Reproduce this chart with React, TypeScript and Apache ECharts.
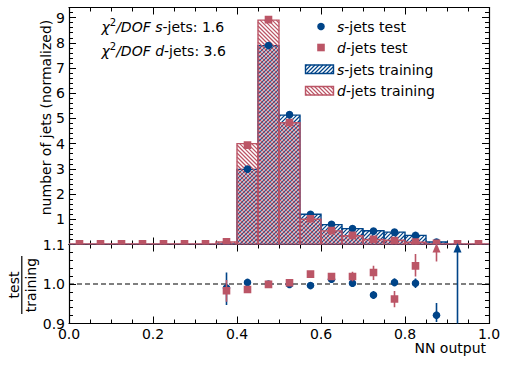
import React, { useEffect, useRef } from 'react';
import * as echarts from 'echarts';

// ---------- data ----------
const binEdges = [0, 0.05, 0.1, 0.15, 0.2, 0.25, 0.3, 0.35, 0.4, 0.45, 0.5, 0.55, 0.6, 0.65, 0.7, 0.75, 0.8, 0.85, 0.9, 0.95, 1.0];
const binCenters = [0.025, 0.075, 0.125, 0.175, 0.225, 0.275, 0.325, 0.375, 0.425, 0.475, 0.525, 0.575, 0.625, 0.675, 0.725, 0.775, 0.825, 0.875, 0.925, 0.975];

const sTrain = [0, 0, 0, 0, 0, 0, 0, 0.02, 2.98, 7.88, 5.13, 1.2, 0.79, 0.63, 0.545, 0.49, 0.36, 0.1, 0, 0];
const dTrain = [0.02, 0.02, 0.02, 0.02, 0.02, 0.02, 0.02, 0.1, 4.0, 8.9, 4.83, 1.0, 0.54, 0.35, 0.2, 0.17, 0.09, 0.02, 0.02, 0.02];
const sTest: (number | null)[] = [null, null, null, null, null, null, null, 0.02, 2.99, 7.89, 5.15, 1.2, 0.8, 0.63, 0.53, 0.49, 0.36, 0.1, 0.02, null];
const dTest: (number | null)[] = [0.03, 0.03, 0.03, 0.03, 0.03, 0.03, 0.03, 0.11, 3.94, 8.92, 4.84, 1.02, 0.55, 0.36, 0.21, 0.16, 0.1, 0.05, 0.03, 0.03];

const sRatioX = [0.375, 0.425, 0.475, 0.525, 0.575, 0.625, 0.675, 0.725, 0.775, 0.825, 0.875];
const sRatio = [0.99, 1.004, 1.0, 0.999, 0.996, 1.012, 1.002, 0.972, 1.004, 1.002, 0.921];
const sRatioErrLo = [0.043, 0.005, 0.003, 0.004, 0.006, 0.008, 0.009, 0.01, 0.01, 0.012, 0.017];
const sRatioErrHi = [0.039, 0.005, 0.003, 0.004, 0.006, 0.008, 0.009, 0.01, 0.01, 0.012, 0.031];

const dRatioX = [0.375, 0.425, 0.475, 0.525, 0.575, 0.625, 0.675, 0.725, 0.775, 0.825];
const dRatio = [0.983, 0.986, 0.999, 1.003, 1.025, 1.019, 1.019, 1.029, 0.962, 1.046];
const dRatioErrLo = [0.028, 0.004, 0.003, 0.004, 0.006, 0.008, 0.012, 0.019, 0.021, 0.027];
const dRatioErrHi = [0.027, 0.004, 0.003, 0.004, 0.006, 0.008, 0.012, 0.017, 0.02, 0.03];

// off-scale ratios drawn as arrows (start value -> top of panel)
const sArrowX = [0.925];
const sArrowFrom = [0.9];
const dArrowX = [0.875];
const dArrowFrom = [1.057];

const refLine = [[0, 1], [1, 1]];

const xTickLabels = ['0.0', '0.2', '0.4', '0.6', '0.8', '1.0'];
const chiLines = [
  { label: 's', value: '1.6' },
  { label: 'd', value: '3.6' },
];

// ---------- styling ----------
const S_COLOR = '#004488';
const D_COLOR = '#BB5566';
const FONT = 'DejaVu Sans';
const FS = 14;
const HATCH = 4;
const HATCH_W = 1.15;
const TOP_MAX = 9.4;
const RATIO_MIN = 0.9;
const RATIO_MAX = 1.1;

const G_LEFT = 69;
const G_W = 420;
const G1_TOP = 7.5;
const G1_H = 237;
const G2_TOP = G1_TOP + G1_H;
const G2_H = 79;

function hatch(x0: number, y0: number, x1: number, y1: number, s: number, dir: number) {
  const out: number[][] = [];
  if (x1 - x0 < 0.5 || y1 - y0 < 0.5) return out;
  if (dir > 0) {
    const k0 = Math.ceil((x0 + y0) / s);
    const k1 = Math.floor((x1 + y1) / s);
    for (let k = k0; k <= k1; k++) {
      const c = k * s;
      const xa = Math.max(x0, c - y1);
      const xb = Math.min(x1, c - y0);
      if (xb > xa) out.push([xa, c - xa, xb, c - xb]);
    }
  } else {
    const k0 = Math.ceil((y0 - x1) / s);
    const k1 = Math.floor((y1 - x0) / s);
    for (let k = k0; k <= k1; k++) {
      const c = k * s;
      const xa = Math.max(x0, y0 - c);
      const xb = Math.min(x1, y1 - c);
      if (xb > xa) out.push([xa, xa + c, xb, xb + c]);
    }
  }
  return out;
}

function hatchElems(x0: number, y0: number, x1: number, y1: number, dir: number, color: string) {
  return hatch(x0, y0, x1, y1, HATCH, dir).map(([a, b, c, d]) => ({
    type: 'line',
    shape: { x1: a, y1: b, x2: c, y2: d },
    style: { stroke: color, lineWidth: HATCH_W },
    silent: true,
  }));
}

function histRender(color: string, dir: number) {
  return (params: any, api: any) => {
    const x0 = api.value(0);
    const x1 = api.value(1);
    const h = api.value(2);
    const pt = api.coord([x0, h]);
    const pb = api.coord([x1, 0]);
    const children: any[] = hatchElems(pt[0], pt[1], pb[0], pb[1], dir, color);
    children.push({
      type: 'rect',
      shape: { x: pt[0], y: pt[1], width: pb[0] - pt[0], height: pb[1] - pt[1] },
      style: { fill: 'none', stroke: color, lineWidth: 1.4 },
    });
    return { type: 'group', children };
  };
}

function markerElem(kind: string, p: number[], color: string) {
  if (kind === 'circle') {
    return { type: 'circle', shape: { cx: p[0], cy: p[1], r: 3.8 }, style: { fill: color } };
  }
  return { type: 'rect', shape: { x: p[0] - 3.8, y: p[1] - 3.8, width: 7.6, height: 7.6 }, style: { fill: color } };
}

function pointRender(color: string, kind: string) {
  return (params: any, api: any) => {
    const p = api.coord([api.value(0), api.value(1)]);
    return markerElem(kind, p, color);
  };
}

function ratioRender(color: string, kind: string) {
  return (params: any, api: any) => {
    const x = api.value(0);
    const y = api.value(1);
    const lo = api.value(2);
    const hi = api.value(3);
    const p = api.coord([x, y]);
    const pl = api.coord([x, y - lo]);
    const ph = api.coord([x, y + hi]);
    return {
      type: 'group',
      children: [
        { type: 'line', shape: { x1: pl[0], y1: pl[1], x2: ph[0], y2: ph[1] }, style: { stroke: color, lineWidth: 1.6 } },
        markerElem(kind, p, color),
      ],
    };
  };
}

function arrowRender(color: string) {
  return (params: any, api: any) => {
    const x = api.value(0);
    const from = api.value(1);
    const p0 = api.coord([x, from]);
    const p1 = api.coord([x, RATIO_MAX]);
    return {
      type: 'group',
      children: [
        { type: 'line', shape: { x1: p0[0], y1: p0[1], x2: p1[0], y2: p1[1] + 6 }, style: { stroke: color, lineWidth: 1.6 } },
        {
          type: 'polygon',
          shape: { points: [[p1[0], p1[1] - 1.5], [p1[0] - 4, p1[1] + 8], [p1[0] + 4, p1[1] + 8]] },
          style: { fill: color },
        },
      ],
    };
  };
}

const axisLineStyle = { show: true, onZero: false, lineStyle: { color: '#000', width: 1.2 } };

function xAxisDef(gridIndex: number, position: string, labels: boolean) {
  return {
    type: 'value',
    gridIndex,
    position,
    min: 0,
    max: 1,
    interval: 0.2,
    axisLine: axisLineStyle,
    axisTick: { show: true, inside: true, length: 7, lineStyle: { color: '#000', width: 1 } },
    minorTick: { show: true, splitNumber: 4, length: 4, lineStyle: { color: '#000', width: 1 } },
    splitLine: { show: false },
    minorSplitLine: { show: false },
    axisLabel: {
      show: labels,
      margin: 3,
      color: '#000',
      fontFamily: FONT,
      fontSize: FS,
      formatter: (v: number) => xTickLabels[Math.round(v / 0.2)] ?? '',
    },
  };
}

function yTopAxis(position: string, major: boolean, labels: boolean) {
  return {
    type: 'value',
    gridIndex: 0,
    position,
    min: 0,
    max: TOP_MAX,
    interval: major ? 1 : 0.2,
    axisLine: major ? axisLineStyle : { show: false, onZero: false },
    axisTick: { show: true, inside: true, length: major ? 7 : 4, lineStyle: { color: '#000', width: 1 } },
    splitLine: { show: false },
    axisLabel: {
      show: labels,
      margin: 4,
      color: '#000',
      fontFamily: FONT,
      fontSize: FS,
      formatter: (v: number) => (v > 0 && Math.abs(v - Math.round(v)) < 1e-6 ? String(Math.round(v)) : ''),
    },
  };
}

function yRatioAxis(position: string, labels: boolean) {
  return {
    type: 'value',
    gridIndex: 1,
    position,
    min: RATIO_MIN,
    max: RATIO_MAX,
    interval: 0.1,
    axisLine: axisLineStyle,
    axisTick: { show: true, inside: true, length: 7, lineStyle: { color: '#000', width: 1 } },
    minorTick: { show: true, splitNumber: 5, length: 4, lineStyle: { color: '#000', width: 1 } },
    splitLine: { show: false },
    minorSplitLine: { show: false },
    axisLabel: {
      show: labels,
      margin: 4,
      color: '#000',
      fontFamily: FONT,
      fontSize: FS,
      formatter: (v: number) => v.toFixed(1),
    },
  };
}

function buildGraphic() {
  const els: any[] = [];
  const rich = {
    i: { fontStyle: 'italic', fontFamily: FONT, fontSize: FS, fill: '#000' },
    n: { fontFamily: FONT, fontSize: FS, fill: '#000' },
    sup: { fontFamily: FONT, fontSize: 10, fill: '#000', padding: [0, 0, 9, 0] },
  };
  chiLines.forEach((c, k) => {
    els.push({
      type: 'text',
      x: 101.5,
      y: 26.5 + k * 24.5,
      style: {
        text: `{i|χ}{sup|2}{i|/DOF }{i|${c.label}}{n|-jets: ${c.value}}`,
        rich,
        verticalAlign: 'middle',
        align: 'left',
      },
    });
  });
  const lx = 337;
  els.push({ type: 'circle', shape: { cx: 321, cy: 26.5, r: 3.8 }, style: { fill: S_COLOR } });
  els.push({ type: 'text', x: lx, y: 26.5, style: { text: '{i|s}{n|-jets test}', rich, verticalAlign: 'middle' } });
  els.push({ type: 'rect', shape: { x: 317.2, y: 43.7, width: 7.6, height: 7.6 }, style: { fill: D_COLOR } });
  els.push({ type: 'text', x: lx, y: 47.5, style: { text: '{i|d}{n|-jets test}', rich, verticalAlign: 'middle' } });
  const patches = [
    { y: 65, color: S_COLOR, dir: 1, text: '{i|s}{n|-jets training}' },
    { y: 86.5, color: D_COLOR, dir: -1, text: '{i|d}{n|-jets training}' },
  ];
  patches.forEach((p) => {
    hatchElems(305.5, p.y, 333.5, p.y + 8.5, p.dir, p.color).forEach((e) => els.push(e));
    els.push({ type: 'rect', shape: { x: 305.5, y: p.y, width: 28, height: 8.5 }, style: { fill: 'none', stroke: p.color, lineWidth: 1.4 } });
    els.push({ type: 'text', x: lx, y: p.y + 4.5, style: { text: p.text, rich, verticalAlign: 'middle' } });
  });
  els.push({
    type: 'text',
    x: 46,
    y: G1_TOP + 110,
    rotation: Math.PI / 2,
    style: { text: 'number of jets (normalized)', fontFamily: FONT, fontSize: FS, fill: '#000', align: 'center', verticalAlign: 'middle' },
  });
  const fy = G2_TOP + G2_H / 2 + 1;
  els.push({
    type: 'text',
    x: 13.5,
    y: fy,
    rotation: Math.PI / 2,
    style: { text: 'test', fontFamily: FONT, fontSize: FS, fill: '#000', align: 'center', verticalAlign: 'middle' },
  });
  els.push({ type: 'line', shape: { x1: 21.8, y1: fy - 29, x2: 21.8, y2: fy + 29 }, style: { stroke: '#000', lineWidth: 1.2 } });
  els.push({
    type: 'text',
    x: 31,
    y: fy,
    rotation: Math.PI / 2,
    style: { text: 'training', fontFamily: FONT, fontSize: FS, fill: '#000', align: 'center', verticalAlign: 'middle' },
  });
  els.push({
    type: 'text',
    x: G_LEFT + G_W - 3,
    y: 348,
    style: { text: 'NN output', fontFamily: FONT, fontSize: FS, fill: '#000', align: 'right', verticalAlign: 'middle' },
  });
  return els;
}

export default function App() {
  const ref = useRef<HTMLDivElement>(null);
  useEffect(() => {
    if (!ref.current) return;
    const chart = echarts.init(ref.current, undefined, { renderer: 'svg' });
    const trainData = (vals: number[]) => vals.map((v, i) => [binEdges[i], binEdges[i + 1], v]);
    const testData = (vals: (number | null)[]) =>
      binCenters.map((x, i) => [x, vals[i]]).filter((d) => d[1] !== null);
    const option: any = {
      animation: false,
      backgroundColor: '#fff',
      grid: [
        { left: G_LEFT, top: G1_TOP, width: G_W, height: G1_H, containLabel: false, outerBoundsMode: 'none' },
        { left: G_LEFT, top: G2_TOP, width: G_W, height: G2_H, containLabel: false, outerBoundsMode: 'none' },
      ],
      xAxis: [
        xAxisDef(0, 'bottom', false),
        xAxisDef(0, 'top', false),
        xAxisDef(1, 'bottom', true),
        xAxisDef(1, 'top', false),
      ],
      yAxis: [
        yTopAxis('left', true, true),
        yTopAxis('left', false, false),
        yTopAxis('right', true, false),
        yTopAxis('right', false, false),
        yRatioAxis('left', true),
        yRatioAxis('right', false),
      ],
      graphic: buildGraphic(),
      series: [
        {
          type: 'custom', name: 's-jets training', xAxisIndex: 0, yAxisIndex: 0, clip: true, z: 2,
          data: trainData(sTrain), renderItem: histRender(S_COLOR, 1),
        },
        {
          type: 'custom', name: 'd-jets training', xAxisIndex: 0, yAxisIndex: 0, clip: true, z: 3,
          data: trainData(dTrain), renderItem: histRender(D_COLOR, -1),
        },
        {
          type: 'custom', name: 's-jets test', xAxisIndex: 0, yAxisIndex: 0, clip: true, z: 4,
          data: testData(sTest), renderItem: pointRender(S_COLOR, 'circle'),
        },
        {
          type: 'custom', name: 'd-jets test', xAxisIndex: 0, yAxisIndex: 0, clip: true, z: 5,
          data: testData(dTest), renderItem: pointRender(D_COLOR, 'square'),
        },
        {
          type: 'line', xAxisIndex: 2, yAxisIndex: 4, data: refLine, symbol: 'none', silent: true, z: 1,
          lineStyle: { color: '#000', width: 1.2, type: [5, 3] },
        },
        {
          type: 'custom', name: 's ratio', xAxisIndex: 2, yAxisIndex: 4, clip: true, z: 4,
          data: sRatioX.map((x, i) => [x, sRatio[i], sRatioErrLo[i], sRatioErrHi[i]]),
          renderItem: ratioRender(S_COLOR, 'circle'),
        },
        {
          type: 'custom', name: 'd ratio', xAxisIndex: 2, yAxisIndex: 4, clip: true, z: 5,
          data: dRatioX.map((x, i) => [x, dRatio[i], dRatioErrLo[i], dRatioErrHi[i]]),
          renderItem: ratioRender(D_COLOR, 'square'),
        },
        {
          type: 'custom', name: 's arrow', xAxisIndex: 2, yAxisIndex: 4, clip: false, z: 6,
          data: sArrowX.map((x, i) => [x, sArrowFrom[i]]), renderItem: arrowRender(S_COLOR),
        },
        {
          type: 'custom', name: 'd arrow', xAxisIndex: 2, yAxisIndex: 4, clip: false, z: 6,
          data: dArrowX.map((x, i) => [x, dArrowFrom[i]]), renderItem: arrowRender(D_COLOR),
        },
      ],
    };
    chart.setOption(option);
    return () => chart.dispose();
  }, []);
  return <div ref={ref} style={{ position: 'fixed', left: 0, top: 0, width: 509, height: 366 }} />;
}
